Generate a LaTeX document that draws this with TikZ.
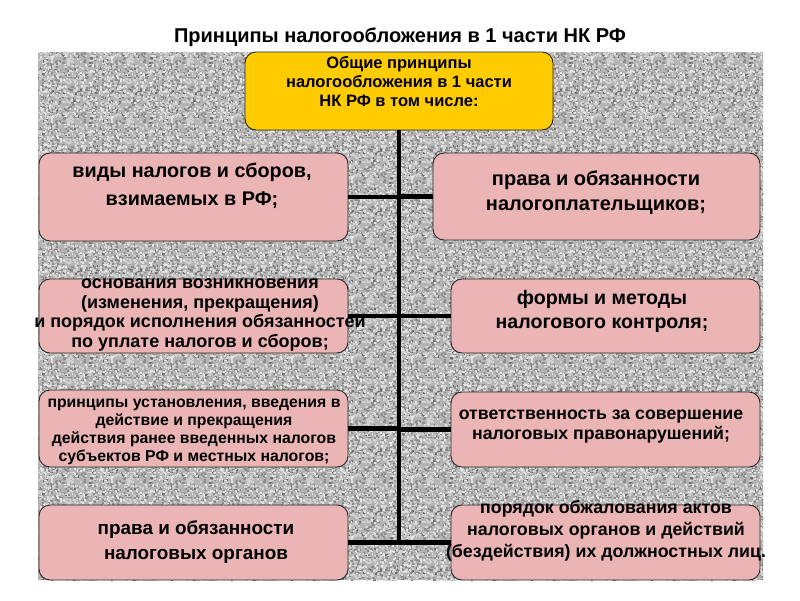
\documentclass[tikz,border=0pt]{standalone}
\usepackage{fontspec}
\setmainfont{Liberation Sans}
\definecolor{boxpink}{HTML}{EBB5B5}
\definecolor{gold}{HTML}{FFCC00}
\definecolor{granite}{HTML}{B4B4B4}
\definecolor{speckdark}{HTML}{8C8C8C}
\definecolor{speckdeep}{HTML}{6E6E6E}
\definecolor{specklight}{HTML}{D2D2D2}
\definecolor{speckwhite}{HTML}{E6E6E6}
\newsavebox\granitetile
\newcommand\speckles[4]{% count, color, w, h
  \pgfsetfillcolor{#2}%
  \foreach \i in {1,...,#1}{%
    \pgfmathsetmacro\rx{60*rnd}\pgfmathsetmacro\ry{60*rnd}%
    \pgfpathrectangle{\pgfpoint{\rx pt}{\ry pt}}{\pgfpoint{#3pt}{#4pt}}%
    \pgfusepath{fill}}}
\begin{document}
\sbox\granitetile{%
\begin{pgfpicture}
\pgfpathrectangle{\pgfpointorigin}{\pgfpoint{60pt}{60pt}}\pgfusepath{use as bounding box}
\pgfpathrectangle{\pgfpointorigin}{\pgfpoint{60pt}{60pt}}\pgfusepath{clip}
\pgfmathsetseed{4242}
\speckles{260}{speckdark}{2.2}{1.8}
\speckles{70}{speckdeep}{1.6}{1.6}
\speckles{270}{specklight}{2.2}{1.8}
\speckles{150}{speckwhite}{1.6}{1.6}
\end{pgfpicture}}%
\begin{tikzpicture}[x=1pt,y=-1pt,
  box/.style={draw=black!85, line width=0.9pt, rounded corners=11pt, fill=boxpink, inner sep=0pt},
  topbox/.style={box, fill=gold},
  link/.style={line width=4.2pt, draw=black},
  txt/.style={align=center, inner sep=0pt}]
\useasboundingbox (0,0) rectangle (800,600);
% granite background
\fill[granite] (38,52) rectangle (763,580);
\begin{scope}
\clip (38,52) rectangle (763,580);
\foreach \i in {0,...,12}{
  \foreach \j in {0,...,8}{
    \pgftext[left,bottom,at={\pgfpointxy{38+60*\i}{112+60*\j}}]{\usebox\granitetile}
  }
}
\end{scope}
% title
\node[txt, font=\bfseries\fontsize{20}{24}\selectfont] (title) at (400,37) {Принципы налогообложения в 1 части НК РФ};
% boxes
\node[topbox, minimum width=308pt, minimum height=78pt] (T) at (399,91) {};
\node[box, minimum width=309pt, minimum height=88pt] (L1) at (193.5,197) {};
\node[box, minimum width=309pt, minimum height=74pt] (L2) at (193.5,316) {};
\node[box, minimum width=309pt, minimum height=77pt] (L3) at (193.5,428.5) {};
\node[box, minimum width=309pt, minimum height=75pt] (L4) at (193.5,542.5) {};
\node[box, minimum width=327pt, minimum height=87pt] (R1) at (596.5,196.5) {};
\node[box, minimum width=309pt, minimum height=74pt] (R2) at (605.5,316) {};
\node[box, minimum width=309pt, minimum height=75pt] (R3) at (605.5,429.5) {};
\node[box, minimum width=309pt, minimum height=75pt] (R4) at (605.5,542.5) {};
% connectors
\coordinate (trunkend) at (T.south |- L4.east);
\draw[link] (T.south) -- (trunkend);
\foreach \b in {L1,L2,L3,L4}{ \draw[link] (\b.east) -- (\b.east -| T.south); }
\foreach \b in {R1,R2,R3,R4}{ \draw[link] (\b.west) -- (\b.west -| T.south); }
% texts
\node[txt, font=\bfseries\fontsize{16.5}{19}\selectfont] (Tt) at (399,82) {Общие принципы\\налогообложения в 1 части\\НК РФ в том числе:};
\node[txt, font=\bfseries\fontsize{19.8}{27.5}\selectfont] (L1t) at (192,186) {виды налогов и сборов,\\взимаемых в РФ;};
\node[txt, font=\bfseries\fontsize{18}{19.4}\selectfont] (L2t) at (200,315) {основания возникновения\\(изменения, прекращения)\\и порядок исполнения обязанностей\\по уплате налогов и сборов;};
\node[txt, font=\bfseries\fontsize{15.8}{18}\selectfont] (L3t) at (194,432) {принципы установления, введения в\\действие и прекращения\\действия ранее введенных налогов\\субъектов РФ и местных налогов;};
\node[txt, font=\bfseries\fontsize{18.9}{25}\selectfont] (L4t) at (196,542.5) {права и обязанности\\налоговых органов};
\node[txt, font=\bfseries\fontsize{20}{25}\selectfont] (R1t) at (596,192.5) {права и обязанности\\налогоплательщиков;};
\node[txt, font=\bfseries\fontsize{19.6}{24}\selectfont] (R2t) at (602,311) {формы и методы\\налогового контроля;};
\node[txt, font=\bfseries\fontsize{17.7}{20}\selectfont] (R3t) at (601,427) {ответственность за совершение\\налоговых правонарушений;};
\node[txt, font=\bfseries\fontsize{17.8}{22}\selectfont] (R4t) at (606,531) {порядок обжалования актов\\налоговых органов и действий\\(бездействия) их должностных лиц.};
\end{tikzpicture}
\end{document}
